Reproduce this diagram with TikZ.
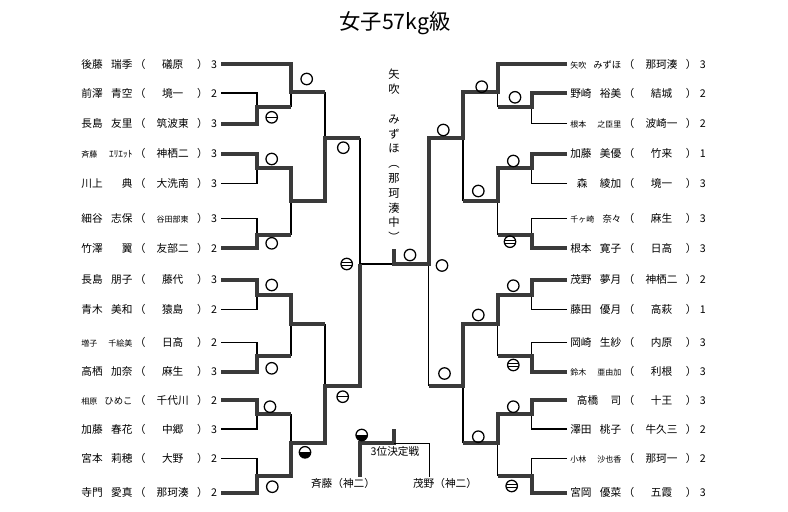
\documentclass[tikz,border=0pt]{standalone}
\usepackage{fontspec}
\setmainfont{Noto Sans CJK JP}

% one line of the list: surname, given name, school, number
\newcommand{\entry}[4]{\hbox to 38.25pt{#1\hfil #2}\hbox to 11.7pt{\hss（\hss}\hbox to 37pt{\hss #3\hss}\hbox to 7.5pt{\hss）\hss}\hbox to 10pt{\hss #4\hss}}
\newcommand{\sm}[1]{{\fontsize{6}{6}\selectfont #1}}
\newcommand{\md}[1]{{\fontsize{7}{7}\selectfont #1}}

\begin{document}
\begin{tikzpicture}[x=0.75pt, y=-0.75pt,
    win/.style={line width=3pt, draw=bracketgray},
    lose/.style={line width=0.9pt, draw=black},
    lrow/.style={anchor=east, inner sep=0pt, font=\fontsize{8}{8}\selectfont},
    rrow/.style={anchor=west, inner sep=0pt, font=\fontsize{8}{8}\selectfont},
    ippon/.style={circle, draw, line width=0.95pt, minimum size=8.6pt, inner sep=0pt},
    waza/.style={ippon, path picture={\draw[line width=0.9pt] (path picture bounding box.west) -- (path picture bounding box.east);}},
    waza2/.style={ippon, path picture={
        \draw[line width=0.8pt] ([yshift=1pt]path picture bounding box.west) -- ([yshift=1pt]path picture bounding box.east);
        \draw[line width=0.8pt] ([yshift=-1pt]path picture bounding box.west) -- ([yshift=-1pt]path picture bounding box.east);}},
    yusei/.style={ippon, path picture={\fill (path picture bounding box.west) rectangle (path picture bounding box.south east);}}]
    \definecolor{bracketgray}{RGB}{58,58,58}
    \useasboundingbox (0,0) rectangle (788,511);

    % Title
    \node[font=\fontsize{16}{16}\selectfont] (title) at (395,23) {女子57kg級};

    % Left entries
    \node[lrow] (l1) at (221,64) {\entry{後藤}{瑞季}{礒原}{3}};
    \node[lrow] (l2) at (221,93) {\entry{前澤}{青空}{境一}{2}};
    \node[lrow] (l3) at (221,123.5) {\entry{長島}{友里}{筑波東}{3}};
    \node[lrow] (l4) at (221,153.5) {\entry{\sm{斉藤}}{\md{ｴﾘｴｯﾄ}}{神栖二}{3}};
    \node[lrow] (l5) at (221,183.5) {\entry{川上}{典}{大洗南}{3}};
    \node[lrow] (l6) at (221,218.5) {\entry{細谷}{志保}{\sm{谷田部東}}{3}};
    \node[lrow] (l7) at (221,248.3) {\entry{竹澤}{翼}{友部二}{2}};
    \node[lrow] (l8) at (221,279.5) {\entry{長島}{朋子}{藤代}{3}};
    \node[lrow] (l9) at (221,309.3) {\entry{青木}{美和}{猿島}{2}};
    \node[lrow] (l10) at (221,342.3) {\entry{\sm{増子}}{\sm{千絵美}}{日高}{2}};
    \node[lrow] (l11) at (221,371.7) {\entry{高栖}{加奈}{麻生}{3}};
    \node[lrow] (l12) at (221,400) {\entry{\sm{相原}}{\md{ひめこ}}{千代川}{2}};
    \node[lrow] (l13) at (221,429) {\entry{加藤}{春花}{中郷}{3}};
    \node[lrow] (l14) at (221,458.3) {\entry{宮本}{莉穂}{大野}{2}};
    \node[lrow] (l15) at (221,492.5) {\entry{寺門}{愛真}{那珂湊}{2}};

    % Right entries
    \node[rrow] (r1) at (567,64) {\hspace{2.25pt}\entry{\sm{矢吹}}{\md{みずほ}}{那珂湊}{3}};
    \node[rrow] (r2) at (567,93) {\hspace{2.25pt}\entry{野崎}{裕美}{結城}{2}};
    \node[rrow] (r3) at (567,123.5) {\hspace{2.25pt}\entry{\sm{根本}}{\sm{之臣里}}{波崎一}{2}};
    \node[rrow] (r4) at (567,153.5) {\hspace{2.25pt}\entry{加藤}{美優}{竹来}{1}};
    \node[rrow] (r5) at (567,183.5) {\hspace{2.25pt}\entry{\hspace{5pt}森}{綾加}{境一}{3}};
    \node[rrow] (r6) at (567,218.5) {\hspace{2.25pt}\entry{\sm{千ヶ崎}}{\md{奈々}}{麻生}{3}};
    \node[rrow] (r7) at (567,248.3) {\hspace{2.25pt}\entry{根本}{寛子}{日高}{3}};
    \node[rrow] (r8) at (567,279.5) {\hspace{2.25pt}\entry{茂野}{夢月}{神栖二}{2}};
    \node[rrow] (r9) at (567,309.3) {\hspace{2.25pt}\entry{藤田}{優月}{高萩}{1}};
    \node[rrow] (r10) at (567,342.3) {\hspace{2.25pt}\entry{岡崎}{生紗}{内原}{3}};
    \node[rrow] (r11) at (567,371.7) {\hspace{2.25pt}\entry{\sm{鈴木}}{\sm{亜由加}}{利根}{3}};
    \node[rrow] (r12) at (567,400) {\hspace{2.25pt}\entry{\hspace{5pt}高橋}{司}{十王}{3}};
    \node[rrow] (r13) at (567,429) {\hspace{2.25pt}\entry{澤田}{桃子}{牛久三}{2}};
    \node[rrow] (r14) at (567,458.3) {\hspace{2.25pt}\entry{\sm{小林}}{\sm{沙也香}}{那珂一}{2}};
    \node[rrow] (r15) at (567,492.5) {\hspace{2.25pt}\entry{宮岡}{優菜}{五霞}{3}};

    % Match points, left
    \coordinate (A) at (257,107);   \coordinate (B) at (257,168.3);
    \coordinate (C) at (257,234.5); \coordinate (D) at (257,295);
    \coordinate (E) at (257,356.2); \coordinate (F) at (257,414.2);
    \coordinate (G) at (257,475.7);
    \coordinate (H) at (291,92.2);  \coordinate (I) at (291,200.8);
    \coordinate (J) at (291,324.3); \coordinate (K) at (291,443.3);
    \coordinate (M) at (325,137.5); \coordinate (N) at (325,385.5);
    \coordinate (S) at (360,264);
    % Match points, right
    \coordinate (A') at (531.5,107);   \coordinate (B') at (531.5,168.3);
    \coordinate (C') at (531.5,234.5); \coordinate (D') at (531.5,295);
    \coordinate (E') at (531.5,356.2); \coordinate (F') at (531.5,414.2);
    \coordinate (G') at (531.5,475.7);
    \coordinate (H') at (497.5,92.2);  \coordinate (I') at (497.5,200.8);
    \coordinate (J') at (497.5,324.3); \coordinate (K') at (497.5,443.3);
    \coordinate (M') at (463,137.5);   \coordinate (N') at (463,385.5);
    \coordinate (S') at (428.5,264);
    % Final
    \coordinate (fin) at (394,264);
    \coordinate (champ) at (394,249);

    % Left bracket
    \draw[lose] (l2.east) -| (A);
    \draw[lose] (l5.east) -| (B);
    \draw[lose] (l6.east) -| (C);
    \draw[lose] (l9.east) -| (D);
    \draw[lose] (l10.east) -| (E);
    \draw[lose] (l13.east) -| (F);
    \draw[lose] (l14.east) -| (G);
    \draw[lose] (A -| H) -- (H);
    \draw[lose] (C -| I) -- (I);
    \draw[lose] (E -| J) -- (J);
    \draw[lose] (F -| K) -- (K);
    \draw[lose] (H -| M) -- (M);
    \draw[lose] (J -| N) -- (N);
    \draw[lose] (M -| S) -- (S) -- (fin);
    \draw[win] (l1.east) -| (H) -- (H -| M);
    \draw[win] (l3.east) -| (A) -- (A -| H);
    \draw[win] (l4.east) -| (B) -| (I) -| (M) -- (M -| S);
    \draw[win] (l7.east) -| (C) -- (C -| I);
    \draw[win] (l8.east) -| (D) -| (J) -- (J -| N);
    \draw[win] (l11.east) -| (E) -- (E -| J);
    \draw[win] (l12.east) -| (F) -- (F -| K);
    \draw[win] (l15.east) -| (G) -| (K) -| (N) -| (S);

    % Right bracket
    \draw[lose] (r3.west) -| (A');
    \draw[lose] (r5.west) -| (B');
    \draw[lose] (r6.west) -| (C');
    \draw[lose] (r9.west) -| (D');
    \draw[lose] (r10.west) -| (E');
    \draw[lose] (r13.west) -| (F');
    \draw[lose] (r14.west) -| (G');
    \draw[lose] (A' -| H') -- (H');
    \draw[lose] (C' -| I') -- (I');
    \draw[lose] (E' -| J') -- (J');
    \draw[lose] (G' -| K') -- (K');
    \draw[lose] (I' -| M') -- (M');
    \draw[lose] (K' -| N') -- (N');
    \draw[lose] (N' -| S') -- (S');
    \draw[win] (r1.west) -| (H') -| (M') -| (S') -| (champ);
    \draw[win] (r2.west) -| (A') -- (A' -| H');
    \draw[win] (r4.west) -| (B') -| (I') -- (I' -| M');
    \draw[win] (r7.west) -| (C') -- (C' -| I');
    \draw[win] (r8.west) -| (D') -| (J') -| (N') -- (N' -| S');
    \draw[win] (r11.west) -| (E') -- (E' -| J');
    \draw[win] (r12.west) -| (F') -| (K') -- (K' -| N');
    \draw[win] (r15.west) -| (G') -- (G' -| K');

    % Champion
    \node[align=center, font=\fontsize{8.5}{11.1}\selectfont] (winner) at (394,155.5)
        {矢\\吹\\[11.1pt]み\\ず\\ほ\\︵\\那\\珂\\湊\\中\\︶};

    % Third place match
    \coordinate (t3) at (394,443.3);
    \coordinate (t3l) at (360,476.7);
    \coordinate (t3r) at (429.3,476.7);
    \draw[win] (t3l) |- (t3) -- (394,429.3);
    \draw[lose] (t3) -| (t3r);
    \node[font=\fontsize{8}{8}\selectfont] (third) at (395,451.7) {3位決定戦};
    \node[font=\fontsize{8}{8}\selectfont] (saito) at (343,483.3) {斉藤（神二）};
    \node[font=\fontsize{8}{8}\selectfont] (shigeno) at (445,483.3) {茂野（神二）};

    % Result marks, left
    \node[ippon] (mH) at (306.7,79) {};
    \node[waza] (mA) at (271.7,117.3) {};
    \node[ippon] (mB) at (271.7,159) {};
    \node[ippon] (mC) at (271.7,243.3) {};
    \node[ippon] (mM) at (343.3,147.7) {};
    \node[waza2] (mS) at (346.7,264) {};
    \node[ippon] (mD) at (271.7,285) {};
    \node[ippon] (mE) at (271.7,368.3) {};
    \node[ippon] (mF) at (270,406.7) {};
    \node[yusei] (mK) at (305,452.3) {};
    \node[ippon] (mG) at (272.3,486.7) {};
    \node[waza] (mN) at (342.7,396.7) {};
    \node[yusei] (m3) at (361.7,435) {};

    % Result marks, right
    \node[ippon] (mH') at (481.7,86.7) {};
    \node[ippon] (mA') at (515,97.3) {};
    \node[ippon] (mM') at (443.3,130) {};
    \node[ippon] (mB') at (513.3,161) {};
    \node[ippon] (mI') at (478.3,191) {};
    \node[waza2] (mC') at (510,241.7) {};
    \node[ippon] (mS') at (442,265.5) {};
    \node[ippon] (mfin) at (410,255) {};
    \node[ippon] (mD') at (513.3,285.7) {};
    \node[ippon] (mJ') at (478.3,315) {};
    \node[waza2] (mE') at (513.3,365) {};
    \node[ippon] (mN') at (444.5,373.5) {};
    \node[ippon] (mF') at (513.3,406.7) {};
    \node[ippon] (mK') at (478.3,436.7) {};
    \node[waza2] (mG') at (511.7,486) {};
\end{tikzpicture}
\end{document}
